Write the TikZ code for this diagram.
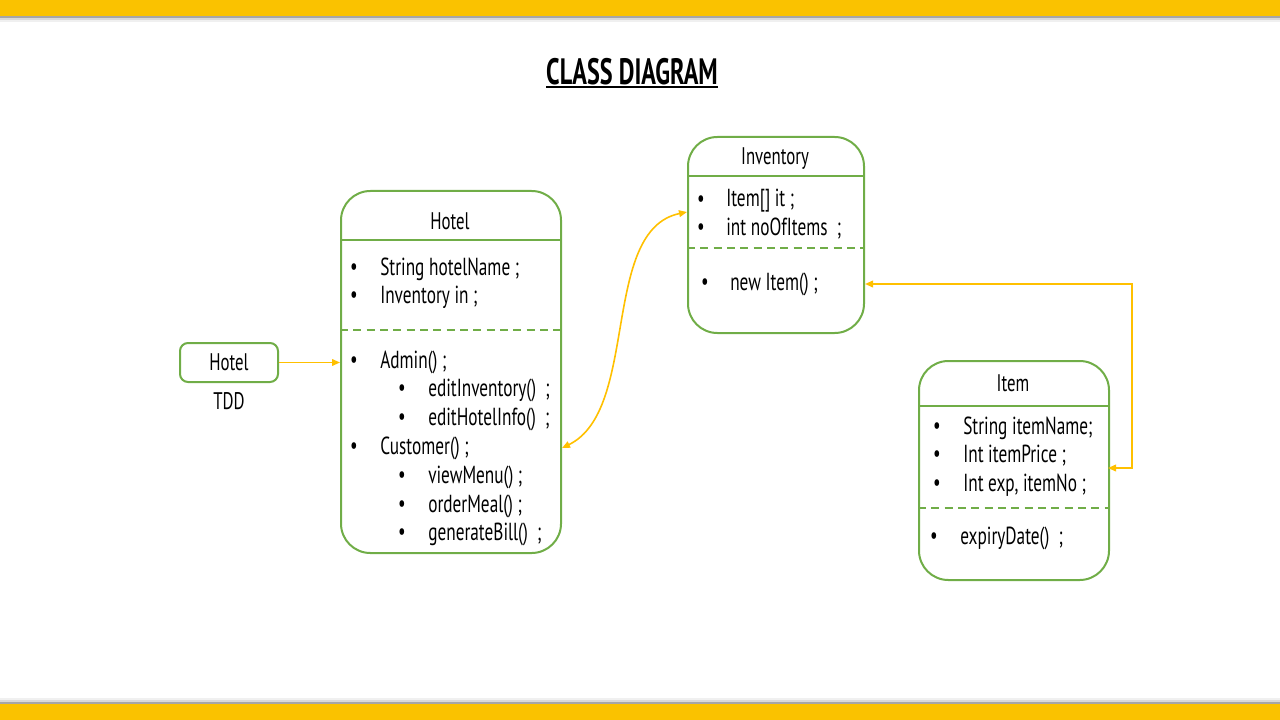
\documentclass[tikz,border=0pt]{standalone}
\usepackage{fontspec}
\setmainfont[FakeStretch=0.7]{PT Sans}
\newfontfamily\titlefont[FakeStretch=0.66]{PT Sans Bold}
\usetikzlibrary{arrows.meta,positioning,calc}
\definecolor{baryellow}{RGB}{250,194,0}
\definecolor{boxgreen}{RGB}{112,173,71}
\definecolor{linkyellow}{RGB}{255,192,0}

\tikzset{
  clsbox/.style={draw=boxgreen, line width=1.5pt, rounded corners=22pt, inner sep=0pt, anchor=north west},
  sepline/.style={draw=boxgreen, line width=1.5pt},
  dashsep/.style={draw=boxgreen, line width=1.5pt, dash pattern={on 6pt off 4pt}},
  txt/.style={anchor=west, inner sep=0pt, font=\fontsize{18.5}{20}\selectfont},
  hdr/.style={inner sep=0pt, font=\fontsize{18}{20}\selectfont},
  bul/.style={inner sep=0pt, font=\fontsize{18}{20}\selectfont},
  link/.style={draw=linkyellow, line width=1.2pt, {Triangle[length=6pt,width=5pt]}-{Triangle[length=6pt,width=5pt]}},
}

\begin{document}
\begin{tikzpicture}[x=0.75pt,y=0.75pt,yscale=-1,xscale=1]
  \useasboundingbox (0,0) rectangle (1280,720);

  % top and bottom bars
  \fill[baryellow] (0,0) rectangle (1280,16);
  \fill[black!35] (0,16) rectangle (1280,18);
  \fill[black!15] (0,18) rectangle (1280,20);
  \fill[black!6] (0,20) rectangle (1280,22);
  \fill[black!6] (0,698) rectangle (1280,700);
  \fill[black!15] (0,700) rectangle (1280,702);
  \fill[black!35] (0,702) rectangle (1280,704);
  \fill[baryellow] (0,704) rectangle (1280,720);

  % title
  \node[inner sep=0pt, font=\titlefont\fontsize{27.5}{29}\selectfont] (title) at (632,72) {CLASS DIAGRAM};
  \draw[line width=1.5pt] (546,87) -- (718,87);

  % TDD box
  \node[draw=boxgreen, line width=1.5pt, rounded corners=6pt, minimum width=73.5pt, minimum height=29.25pt,
        inner sep=0pt, font=\fontsize{18}{20}\selectfont] (tdd) at (229,362.5) {Hotel};
  \node[hdr, below=7pt of tdd] (tddlbl) {TDD};

  % Hotel class
  \node[clsbox, minimum width=165pt, minimum height=271.5pt] (hotelcls) at (340,190) {};
  \node[hdr] (hotelhdr) at (450,221) {Hotel};
  \draw[sepline] (340,240) -- (560,240);
  \draw[dashsep] (340,330) -- (560,330);
  \node[bul] (hb1) at (354,269) {\textbullet};
  \node[txt] (hname) at (380,269) {String hotelName ;};
  \node[bul] (hb2) at (354,297) {\textbullet};
  \node[txt] (hinv) at (380,297) {Inventory in ;};
  \node[bul] (hb3) at (354,362) {\textbullet};
  \node[txt] (hadmin) at (380,362) {Admin() ;};
  \node[bul] (hb4) at (402,390) {\textbullet};
  \node[txt] (heditinv) at (428,390) {editInventory()~ ;};
  \node[bul] (hb5) at (402,419) {\textbullet};
  \node[txt] (hedithot) at (428,419) {editHotelInfo()~ ;};
  \node[bul] (hb6) at (354,448) {\textbullet};
  \node[txt] (hcust) at (380,448) {Customer() ;};
  \node[bul] (hb7) at (402,477) {\textbullet};
  \node[txt] (hview) at (428,477) {viewMenu() ;};
  \node[bul] (hb8) at (402,506) {\textbullet};
  \node[txt] (horder) at (428,506) {orderMeal() ;};
  \node[bul] (hb9) at (402,534) {\textbullet};
  \node[txt] (hbill) at (428,534) {generateBill()~ ;};

  % Inventory class
  \node[clsbox, minimum width=132pt, minimum height=147pt] (invcls) at (687,136) {};
  \node[hdr] (invhdr) at (775,159) {Inventory};
  \draw[sepline] (687,176) -- (863,176);
  \draw[dashsep] (687,248) -- (863,248);
  \node[bul] (ib1) at (701,201) {\textbullet};
  \node[txt] (iit) at (726,201) {Item[] it ;};
  \node[bul] (ib2) at (701,229) {\textbullet};
  \node[txt] (icount) at (726,229) {int noOfItems~ ;};
  \node[bul] (ib3) at (705,284) {\textbullet};
  \node[txt] (inew) at (730,284) {new Item() ;};

  % Item class
  \node[clsbox, minimum width=142.5pt, minimum height=164.25pt] (itemcls) at (918,360) {};
  \node[hdr] (itemhdr) at (1013,383) {Item};
  \draw[sepline] (918,406) -- (1108,406);
  \draw[dashsep] (918,508) -- (1108,508);
  \node[bul] (tb1) at (937,428) {\textbullet};
  \node[txt] (tname) at (963,428) {String itemName;};
  \node[bul] (tb2) at (937,456) {\textbullet};
  \node[txt] (tprice) at (963,456) {Int itemPrice ;};
  \node[bul] (tb3) at (937,485) {\textbullet};
  \node[txt] (texp) at (963,485) {Int exp, itemNo ;};
  \node[bul] (tb4) at (934,538) {\textbullet};
  \node[txt] (tdate) at (960,538) {expiryDate()~ ;};

  % connectors
  \coordinate (invin) at (687,212);
  \coordinate (itemin) at (1108,468);
  \draw[draw=linkyellow, line width=1.2pt, -{Triangle[length=6pt,width=5pt]}] (tdd.east) -- (tdd.east -| hotelcls.west);
  \draw[link] (hotelcls.east |- hcust) .. controls (640,410) and (600,230) .. (invin);
  \draw[link] (invcls.east |- inew) -- (1132,284) |- (itemin);
\end{tikzpicture}
\end{document}
